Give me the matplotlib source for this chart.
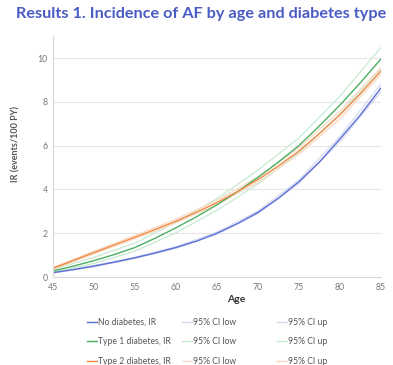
import matplotlib
matplotlib.use("Agg")
import matplotlib.pyplot as plt
from matplotlib.lines import Line2D

plt.rcParams['font.family'] = ['Lato', 'DejaVu Sans']

# Data
ages = [45, 47.5, 50, 52.5, 55, 57.5, 60, 62.5, 65, 67.5, 70, 72.5, 75, 77.5, 80, 82.5, 85]
no_diab_ir = [0.2, 0.34, 0.5, 0.68, 0.88, 1.1, 1.35, 1.64, 2.0, 2.44, 2.95, 3.6, 4.35, 5.25, 6.3, 7.4, 8.62]
type1_ir = [0.28, 0.5, 0.75, 1.03, 1.35, 1.78, 2.25, 2.75, 3.3, 3.9, 4.55, 5.25, 6.0, 6.9, 7.85, 8.87, 9.95]
type2_ir = [0.4, 0.76, 1.12, 1.47, 1.82, 2.18, 2.55, 2.96, 3.4, 3.9, 4.45, 5.07, 5.75, 6.55, 7.4, 8.37, 9.4]

ci_ages = [45, 50, 55, 60, 65, 70, 75, 80, 85]
no_diab_low = [0.18, 0.47, 0.85, 1.31, 1.95, 2.89, 4.27, 6.18, 8.45]
no_diab_up = [0.22, 0.53, 0.91, 1.39, 2.05, 3.01, 4.43, 6.42, 8.8]
type1_low = [0.22, 0.62, 1.18, 2.02, 3.05, 4.25, 5.68, 7.45, 9.5]
type1_up = [0.36, 0.9, 1.55, 2.5, 3.58, 4.88, 6.35, 8.25, 10.48]
type2_low = [0.36, 1.06, 1.75, 2.47, 3.3, 4.33, 5.6, 7.22, 9.25]
type2_up = [0.44, 1.18, 1.9, 2.64, 3.5, 4.57, 5.9, 7.58, 9.55]

x_ticks = [45, 50, 55, 60, 65, 70, 75, 80, 85]
y_ticks = [0, 2, 4, 6, 8, 10]

title = "Results 1. Incidence of AF by age and diabetes type"
ir_labels = ["No diabetes, IR", "Type 1 diabetes, IR", "Type 2 diabetes, IR"]

blue, green, orange = "#5a6fd4", "#4caf62", "#ee8a45"
blue_l, green_l, orange_l = "#d3d8f2", "#c8ead0", "#f9d9c3"

fig = plt.figure(figsize=(3.93, 3.65), dpi=100)
ax = fig.add_axes([0.135, 0.241, 0.834, 0.66])

ax.plot(ci_ages, no_diab_low, color=blue_l, lw=0.8)
ax.plot(ci_ages, no_diab_up, color=blue_l, lw=0.8)
ax.plot(ci_ages, type1_low, color=green_l, lw=0.9)
ax.plot(ci_ages, type1_up, color=green_l, lw=0.9)
ax.plot(ci_ages, type2_low, color=orange_l, lw=0.9)
ax.plot(ci_ages, type2_up, color=orange_l, lw=0.9)
ax.plot(ages, no_diab_ir, color=blue, lw=1.0)
ax.plot(ages, type1_ir, color=green, lw=1.0)
ax.plot(ages, type2_ir, color=orange, lw=1.0)

ax.set_xlim(45, 85)
ax.set_ylim(0, 11)
ax.set_xticks(x_ticks)
ax.set_yticks(y_ticks)
ax.tick_params(axis='both', length=0, labelsize=6.3, colors='#777777', pad=4)
ax.grid(axis='y', color='#e6e6e6', lw=0.8)
ax.set_axisbelow(True)
for s in ['top', 'right']:
    ax.spines[s].set_visible(False)
for s in ['left', 'bottom']:
    ax.spines[s].set_color('#d9d9d9')
    ax.spines[s].set_linewidth(0.8)

ax.set_xlabel("Age", fontsize=7.5, fontweight='bold', color='#333333')
ax.xaxis.set_label_coords(0.558, -0.075)
ax.set_ylabel("IR (events/100 PY)", fontsize=6.5, fontweight='bold', color='#555555')
ax.yaxis.set_label_coords(-0.10, 0.552)

fig.text(0.04, 0.962, title, fontsize=11.7, fontweight='bold', color='#4a5cc4', va='center', ha='left')

cols = [
    ([blue, green, orange], ir_labels, 0.222),
    ([blue_l, green_l, orange_l], ["95% CI low"] * 3, 0.464),
    ([blue_l, green_l, orange_l], ["95% CI up"] * 3, 0.706),
]
for colors, labels, xpos in cols:
    handles = [Line2D([], [], color=c, lw=1.0) for c in colors]
    fig.legend(handles, labels, loc='upper left', bbox_to_anchor=(xpos, 0.13),
               frameon=False, fontsize=6.2, handlelength=1.1, handletextpad=0.1,
               labelspacing=1.25, borderaxespad=0, borderpad=0, labelcolor='#555555')

fig.savefig("out.png", dpi=100)
